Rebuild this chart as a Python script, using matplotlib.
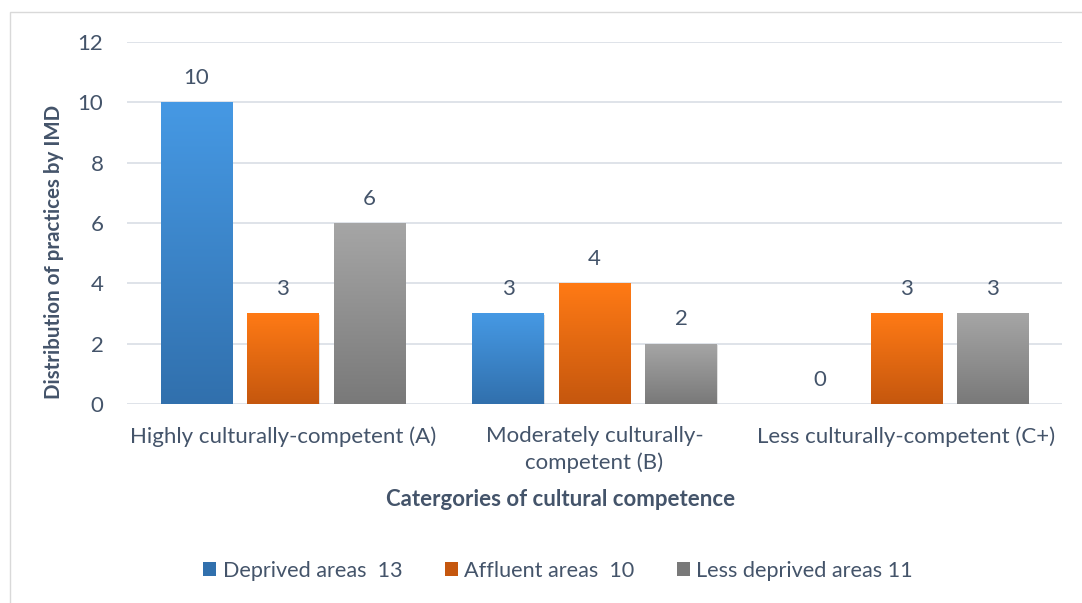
import matplotlib
matplotlib.use("Agg")
import matplotlib.pyplot as plt
import numpy as np
from matplotlib.colors import LinearSegmentedColormap
from matplotlib.patches import Rectangle

categories = ["Highly culturally-competent (A)", "Moderately culturally-\ncompetent (B)", "Less culturally-competent (C+)"]
series_names = ["Deprived areas  13", "Affluent areas  10", "Less deprived areas 11"]
deprived = [10, 3, 0]
affluent = [3, 4, 3]
less_deprived = [6, 2, 3]
y_ticks = [0, 2, 4, 6, 8, 10, 12]

series = [deprived, affluent, less_deprived]
grad = [("#4699E4", "#3170AD"), ("#FF7A15", "#C5570E"), ("#A6A6A6", "#797979")]
TXT = "#44546A"
FS = 16

plt.rcParams['font.family'] = ['Lato', 'DejaVu Sans']

fig = plt.figure(figsize=(10.82, 6.03), dpi=100)
W, H = 1082, 603
ax = fig.add_axes([127 / W, 1 - 404 / H, (1062 - 127) / W, (404 - 42) / H])

# outer chart border
fig.patches.append(Rectangle((10 / W, -0.1), 1.2, 1 - 12 / H + 0.1, transform=fig.transFigure,
                             fill=False, edgecolor="#D9D9D9", linewidth=1.0))

x = np.arange(len(categories))
bw = 0.228
step = 0.2775
ax.set_xlim(-0.5, 2.5)
ax.set_ylim(0, 12)

for i, (vals, (ctop, cbot)) in enumerate(zip(series, grad)):
    pos = x + (i - 1) * step
    bars = ax.bar(pos, vals, width=bw, color=ctop, zorder=3, label=series_names[i], linewidth=0)
    cmap = LinearSegmentedColormap.from_list("g%d" % i, [cbot, ctop])
    for b, v in zip(bars, vals):
        bx, by = b.get_x(), b.get_y()
        bwid, bh = b.get_width(), b.get_height()
        if bh > 0:
            ax.add_patch(Rectangle((bx + 0.004, -0.08), bwid, bh + 0.02, facecolor="#000000",
                                   alpha=0.12, zorder=2, linewidth=0))
            img = np.linspace(0, 1, 256).reshape(-1, 1)
            im = ax.imshow(img, cmap=cmap, aspect="auto", origin="lower",
                           extent=(bx, bx + bwid, by, by + bh), zorder=4)
            im.set_clip_path(b)
        ax.text(bx + bwid / 2, v + 0.48, str(v), ha="center", va="bottom",
                fontsize=FS, color=TXT, zorder=5)

ax.set_yticks(y_ticks)
ax.set_yticklabels([str(t) for t in y_ticks], fontsize=FS, color=TXT)
ax.set_xticks(x)
ax.set_xticklabels(categories, fontsize=FS, color=TXT, linespacing=1.4)
ax.tick_params(axis="both", length=0)
ax.tick_params(axis="y", pad=17)
ax.tick_params(axis="x", pad=16)
ax.grid(axis="y", color="#D9DEE5", linewidth=1.2, zorder=0)
ax.set_axisbelow(True)
for s in ax.spines.values():
    s.set_visible(False)

ax.set_ylabel("Distribution of practices by IMD", fontsize=14.8, fontweight="bold", color=TXT)
ax.yaxis.set_label_coords((64 - 127) / (1062 - 127), (404 - 252) / (404 - 42))
ax.set_xlabel("Catergories of cultural competence", fontsize=FS, fontweight="bold", color=TXT)
ax.xaxis.set_label_coords((561 - 127) / (1062 - 127), -(489 - 404) / (404 - 42))

handles = []
for (ctop, cbot) in grad:
    handles.append(Rectangle((0, 0), 1, 1, facecolor=cbot))
leg = fig.legend(handles, series_names, loc="center", bbox_to_anchor=(558 / W, 1 - 571 / H),
                 ncol=3, frameon=False, fontsize=15.6, handlelength=0.6, handleheight=0.6,
                 handletextpad=0.3, columnspacing=1.95)
for t in leg.get_texts():
    t.set_color(TXT)

fig.savefig("out.png", dpi=100)
